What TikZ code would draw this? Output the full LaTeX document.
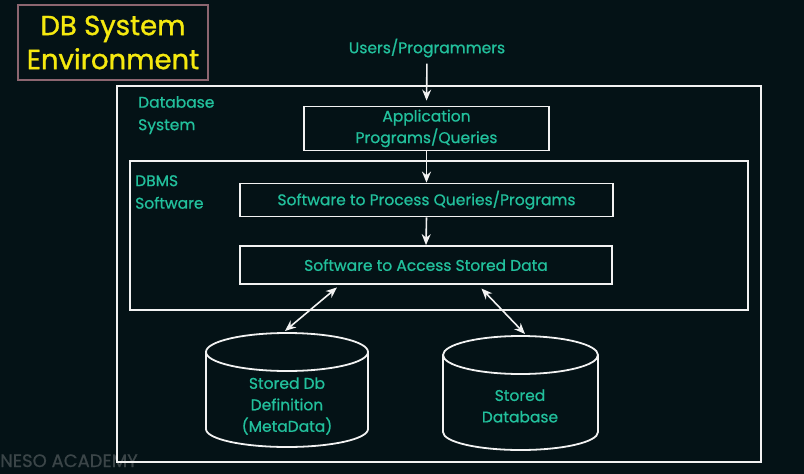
\documentclass[tikz,border=0pt]{standalone}
\usepackage{fontspec}
\setmainfont{Poppins}
\newfontfamily\medfont{Poppins}[FakeBold=0.8]
\newfontfamily\ttlfont{Poppins}[FakeBold=1.2]
\usetikzlibrary{arrows.meta}
\definecolor{bg}{HTML}{041216}
\definecolor{tealtxt}{HTML}{22C09C}
\definecolor{ttl}{HTML}{F5E90F}
\definecolor{ttlframe}{HTML}{8C6670}
\definecolor{lin}{HTML}{F2F2F2}
\definecolor{wm}{HTML}{3B4548}
\begin{document}
\begin{tikzpicture}[x=1pt,y=-1pt,
  txt/.style={text=tealtxt, font=\medfont\fontsize{15.5}{21.5}\selectfont, align=center, inner sep=0pt},
  box/.style={draw=lin, line width=1.8pt, txt},
  lbl/.style={text=tealtxt, font=\medfont\fontsize{15.5}{22.5}\selectfont, align=left, inner sep=0pt, anchor=north west},
  arr/.style={draw=lin, line width=1.6pt, -{Stealth[length=11pt,width=9pt]}},
  barr/.style={draw=lin, line width=1.6pt, {Stealth[length=11pt,width=9pt]}-{Stealth[length=11pt,width=9pt]}},
  cyl/.style={draw=lin, line width=1.8pt},
]
\fill[bg] (0,0) rectangle (804,474);
\useasboundingbox (0,0) rectangle (804,474);

% watermark
\node[text=wm, font=\medfont\fontsize{18}{18}\selectfont, anchor=base west, inner sep=0pt] (wmark) at (0,467) {NESO ACADEMY};

% title
\node[draw=ttlframe, line width=1.5pt, minimum width=190pt, minimum height=75pt,
      text=ttl, font=\ttlfont\fontsize{27.5}{34}\selectfont, align=center, inner sep=0pt] (title) at (113,42.5) {DB System\\Environment};

% outer box
\node[draw=lin, line width=1.8pt, minimum width=644pt, minimum height=376pt] (dbsys) at (439,274) {};
\node[lbl] (dbsyslbl) at (138,96) {Database\\System};

% DBMS box
\node[draw=lin, line width=1.8pt, minimum width=618pt, minimum height=149pt] (dbms) at (439,235.5) {};
\node[lbl] (dbmslbl) at (135,175) {DBMS\\Software};

% users
\node[txt] (users) at (427,48) {Users/Programmers};

% boxes
\node[box, minimum width=245pt, minimum height=44pt] (app) at (426.5,128.5) {Application\\Programs/Queries};
\node[box, minimum width=373pt, minimum height=33pt] (proc) at (426.5,200) {Software to Process Queries/Programs};
\node[box, minimum width=372pt, minimum height=38pt] (acc) at (426,265) {Software to Access Stored Data};

% cylinders
\draw[cyl] (287,352) ellipse [x radius=81pt, y radius=19pt];
\draw[cyl] (206,352) -- (206,429) arc[start angle=180, end angle=360, x radius=81pt, y radius=18pt] -- (368,352);
\node[txt] (cyl1) at (287,406) {Stored Db\\Definition\\(MetaData)};
\coordinate (cyl1top) at (285,331);

\draw[cyl] (520.5,355) ellipse [x radius=77.5pt, y radius=19pt];
\draw[cyl] (443,355) -- (443,432) arc[start angle=180, end angle=360, x radius=77.5pt, y radius=18pt] -- (598,355);
\node[txt] (cyl2) at (520,406) {Stored\\Database};
\coordinate (cyl2top) at (525,334);

% connectors
\draw[arr, shorten <=6pt, shorten >=5pt] (users.south) -- (app.north);
\draw[arr] (app.south) -- (proc.north);
\draw[arr] (proc.south) -- (acc.north);
\draw[barr, shorten <=4pt] ([xshift=-86pt]acc.south) -- (cyl1top);
\draw[barr, shorten <=5pt] ([xshift=52pt]acc.south) -- (cyl2top);
\end{tikzpicture}
\end{document}
